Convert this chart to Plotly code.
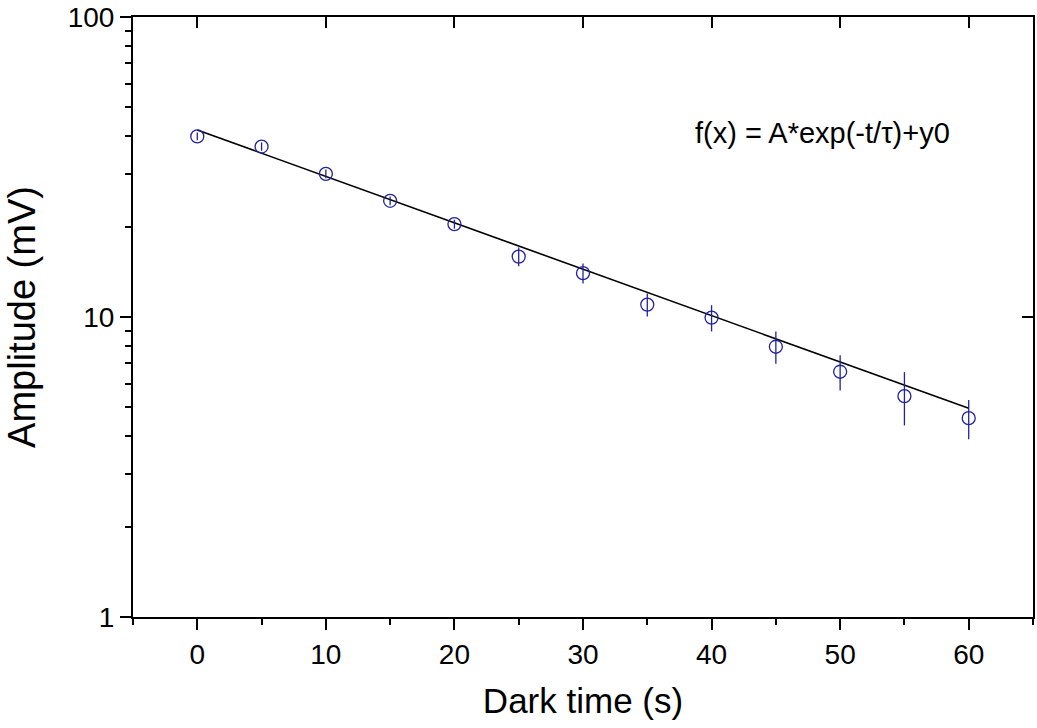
import plotly.graph_objects as go

# Data
dark_time = [0, 5, 10, 15, 20, 25, 30, 35, 40, 45, 50, 55, 60]
amplitude = [40.0, 37.0, 30.0, 24.4, 20.4, 15.9, 14.0, 11.0, 9.95, 7.96, 6.57, 5.45, 4.6]
amp_err = [1.2, 1.2, 1.0, 0.8, 0.7, 1.15, 1.08, 0.97, 1.0, 0.98, 0.88, 1.1, 0.69]

# Fitted exponential (straight on log axis): endpoints of the fit curve
fit_x = [0, 60]
fit_y = [42.0, 4.96]

x_major = [0, 10, 20, 30, 40, 50, 60]
y_major = [1, 10, 100]
y_major_text = ["1", "10", "100"]
y_minor = [2, 3, 4, 5, 6, 7, 8, 9, 20, 30, 40, 50, 60, 70, 80, 90]

formula_text = "f(x) = A*exp(-t/\u03c4)+y0"

FONT = "Arial, Liberation Sans, sans-serif"
BLUE = "#22229e"

fig = go.Figure()

fig.add_trace(go.Scatter(
    x=fit_x, y=fit_y, mode="lines",
    line=dict(color="black", width=1.6),
    showlegend=False, hoverinfo="skip",
))

fig.add_trace(go.Scatter(
    x=dark_time, y=amplitude, mode="markers",
    marker=dict(symbol="circle-open", size=13, color=BLUE, line=dict(width=1.3, color=BLUE)),
    error_y=dict(type="data", array=amp_err, visible=True, thickness=1.3, width=0, color=BLUE),
    showlegend=False,
))

# helper trace so the mirrored (inward-tick) axes are drawn
fig.add_trace(go.Scatter(
    x=[None], y=[None], xaxis="x2", yaxis="y2",
    mode="markers", showlegend=False, hoverinfo="skip",
))

fig.update_layout(
    width=1037, height=728,
    margin=dict(l=133, r=2, t=17, b=111),
    paper_bgcolor="white", plot_bgcolor="white",
    font=dict(family=FONT, color="black", size=28),
    xaxis=dict(
        range=[-5, 65], tickmode="array", tickvals=x_major,
        ticks="outside", ticklen=11, tickwidth=1.5, tickcolor="black",
        minor=dict(dtick=5, ticks="outside", ticklen=6, tickwidth=1.5, tickcolor="black", showgrid=False),
        showline=True, linewidth=2, linecolor="black", mirror=True,
        showgrid=False, zeroline=False,
        tickfont=dict(size=28, family=FONT),
        title=dict(text="Dark time (s)", font=dict(size=35, family=FONT), standoff=20),
    ),
    xaxis2=dict(
        overlaying="x", side="top", anchor="y",
        range=[-5, 65], tickmode="array", tickvals=x_major,
        ticks="inside", ticklen=11, tickwidth=1.5, tickcolor="black",
        showticklabels=False, showline=False, showgrid=False, zeroline=False,
    ),
    yaxis=dict(
        type="log", range=[0, 2], tickmode="array", tickvals=y_major, ticktext=y_major_text,
        ticks="outside", ticklen=11, tickwidth=1.5, tickcolor="black",
        minor=dict(tickmode="array", tickvals=y_minor, ticks="outside", ticklen=6,
                   tickwidth=1.5, tickcolor="black", showgrid=False),
        showline=True, linewidth=2, linecolor="black", mirror=True,
        showgrid=False, zeroline=False,
        tickfont=dict(size=28, family=FONT),
        title=dict(text="Amplitude (mV)", font=dict(size=38, family=FONT), standoff=20),
    ),
    yaxis2=dict(
        overlaying="y", side="right", anchor="x",
        type="log", range=[0, 2], tickmode="array", tickvals=y_major,
        ticks="inside", ticklen=11, tickwidth=1.5, tickcolor="black",
        showticklabels=False, showline=False, showgrid=False, zeroline=False,
    ),
    annotations=[dict(
        text=formula_text, xref="paper", yref="paper", x=0.766, y=0.807,
        xanchor="center", yanchor="middle", showarrow=False,
        font=dict(size=29, family=FONT, color="black"),
    )],
)

fig.write_html(
    "out.html",
    config={"responsive": False, "displayModeBar": False},
    post_script="document.body.style.margin='0';document.body.style.overflow='hidden';",
)
